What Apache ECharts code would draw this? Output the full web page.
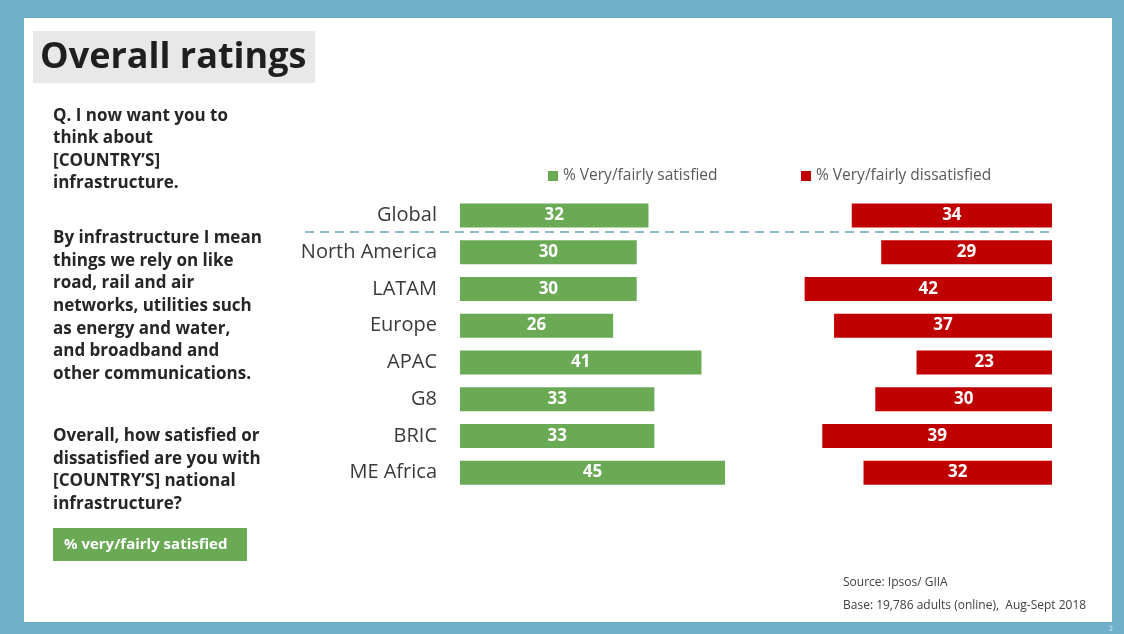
<!DOCTYPE html>
<html>
<head>
<meta charset="utf-8">
<script src="https://cdn.jsdelivr.net/npm/echarts@6/dist/echarts.min.js"></script>
<style>
html,body{margin:0;padding:0;background:#70b0c8;}
#chart{width:1124px;height:634px;}
</style>
</head>
<body>
<div id="chart"></div>
<script>
var categories = ['Global','North America','LATAM','Europe','APAC','G8','BRIC','ME Africa'];
var satisfied = [32,30,30,26,41,33,33,45];
var dissatisfied = [34,29,42,37,23,30,39,32];
var seriesNames = ['% Very/fairly satisfied','% Very/fairly dissatisfied'];

var FONT = '"Open Sans", "Noto Sans", sans-serif';
var chart = echarts.init(document.getElementById('chart'));

var leftText = [
  {y:115, t:'Q. I now want you to'},
  {y:137, t:'think about'},
  {y:160, t:'[COUNTRY\u2019S]'},
  {y:182, t:'infrastructure.'},
  {y:237, t:'By infrastructure I mean'},
  {y:260, t:'things we rely on like'},
  {y:282, t:'road, rail and air'},
  {y:305, t:'networks, utilities such'},
  {y:328, t:'as energy and water,'},
  {y:350, t:'and broadband and'},
  {y:373, t:'other communications.'},
  {y:435, t:'Overall, how satisfied or'},
  {y:458, t:'dissatisfied are you with'},
  {y:480, t:'[COUNTRY\u2019S] national'},
  {y:503, t:'infrastructure?'}
];

var graphics = [
  {type:'rect', shape:{x:24,y:18,width:1088,height:604}, style:{fill:'#ffffff'}, z:-10},
  {type:'rect', shape:{x:33,y:31,width:282,height:52}, style:{fill:'#e8e8e8'}, z:-5},
  {type:'text', left:40, top:40, style:{text:'Overall ratings', font:'bold 36px '+FONT, fill:'#1f1f1f'}},
  {type:'rect', shape:{x:53,y:528,width:194,height:33}, style:{fill:'#6aaa55'}, z:-5},
  {type:'text', left:64, top:537, style:{text:'% very/fairly satisfied', font:'bold 15px '+FONT, fill:'#ffffff'}},
  {type:'line', shape:{x1:305,y1:232,x2:1052,y2:232}, style:{stroke:'#8dbacb', lineWidth:2, lineDash:[9,6]}},
  {type:'text', left:843, top:577, style:{text:'Source: Ipsos/ GIIA', font:'12px '+FONT, fill:'#404040'}},
  {type:'text', left:843, top:600, style:{text:'Base: 19,786 adults (online),  Aug-Sept 2018', font:'12px '+FONT, fill:'#404040'}},
  {type:'text', left:1109, top:625, style:{text:'2', font:'7px '+FONT, fill:'#d8ecf3'}}
];
leftText.forEach(function(l){
  graphics.push({type:'text', left:53, top:l.y-7, style:{text:l.t, font:'bold 17px '+FONT, fill:'#262626'}});
});

var option = {
  backgroundColor:'#70b0c8',
  animation:false,
  textStyle:{fontFamily:FONT},
  graphic: graphics,
  legend:[
    {data:[seriesNames[0]], left:543, top:163, itemWidth:10, itemHeight:10, icon:'rect', itemGap:5,
     textStyle:{fontSize:15.5, color:'#595959', fontFamily:FONT}},
    {data:[seriesNames[1]], left:796, top:163, itemWidth:10, itemHeight:10, icon:'rect', itemGap:5,
     textStyle:{fontSize:15.5, color:'#595959', fontFamily:FONT}}
  ],
  grid:[
    {left:460, top:197, width:294.5, height:294},
    {left:757.5, top:197, width:294.5, height:294}
  ],
  xAxis:[
    {type:'value', gridIndex:0, min:0, max:50, show:false},
    {type:'value', gridIndex:1, min:0, max:50, inverse:true, show:false}
  ],
  yAxis:[
    {type:'category', gridIndex:0, data:categories, inverse:true,
     axisLine:{show:false}, axisTick:{show:false},
     axisLabel:{margin:23, fontSize:20, color:'#3a3a3a', fontFamily:FONT}},
    {type:'category', gridIndex:1, data:categories, inverse:true, show:false}
  ],
  series:[
    {name:seriesNames[0], type:'bar', xAxisIndex:0, yAxisIndex:0, data:satisfied, barWidth:24,
     itemStyle:{color:'#6aaa55'},
     label:{show:true, position:'inside', color:'#ffffff', fontWeight:'bold', fontSize:17, fontFamily:FONT}},
    {name:seriesNames[1], type:'bar', xAxisIndex:1, yAxisIndex:1, data:dissatisfied, barWidth:24,
     itemStyle:{color:'#c00000'},
     label:{show:true, position:'inside', color:'#ffffff', fontWeight:'bold', fontSize:17, fontFamily:FONT}}
  ]
};
chart.setOption(option);
</script>
</body>
</html>
